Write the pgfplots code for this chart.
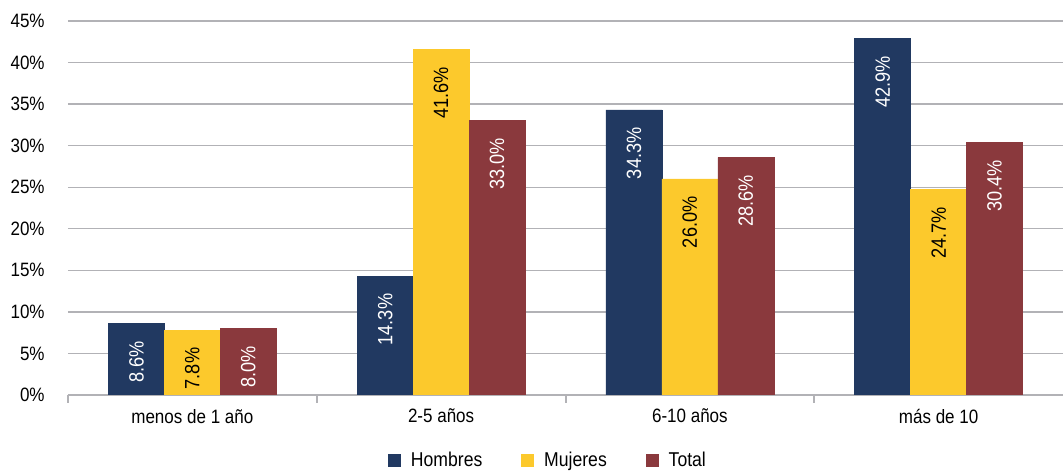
\documentclass[border=0pt]{standalone}
\usepackage{pgfplots}
\pgfplotsset{compat=1.18}
\usepackage{fontspec}
\setmainfont{Liberation Sans}[FakeStretch=0.88]

\definecolor{hombres}{RGB}{33,57,97}
\definecolor{mujeres}{RGB}{252,201,44}
\definecolor{total}{RGB}{138,57,61}
\definecolor{gridgray}{RGB}{178,178,182}

\begin{document}
\begin{tikzpicture}
\begin{axis}[
    scale only axis,
    width=746.25pt, height=280.5pt,
    ybar=0pt,
    bar width=0.225,
    xmin=-0.5, xmax=3.5,
    ymin=0, ymax=45,
    ytick={0,5,...,45},
    yticklabel={\pgfmathprintnumber{\tick}\%},
    /pgf/number format/assume math mode=true,
    font=\fontsize{14.5pt}{16pt}\selectfont,
    xtick={0,1,2,3},
    xticklabels={menos de 1 año, 2-5 años, 6-10 años, más de 10},
    minor xtick={-0.5,0.5,1.5,2.5},
    major tick length=0pt,
    minor tick length=6pt,
    tick style={gridgray, line width=1.2pt},
    minor tick style={gridgray, line width=1.5pt},
    axis x line*=bottom,
    axis y line*=left,
    y axis line style={draw=none},
    x axis line style={gridgray, line width=1pt, -},
    ymajorgrids,
    grid style={gridgray, line width=1pt},
    xtick align=outside,
    xticklabel style={yshift=-7pt},
    ytick style={draw=none},
    yticklabel style={xshift=-14pt},
    enlarge x limits=false,
    nodes near coords={\pgfmathprintnumber[fixed,fixed zerofill,precision=1]{\pgfplotspointmeta}\%},
    every node near coord/.append style={rotate=90, anchor=east, inner xsep=13pt, inner ysep=0pt,
        font=\fontsize{15.5pt}{18pt}\selectfont},
    legend style={at={(0.5,-0.175)}, anchor=center, xshift=-13pt, draw=none, legend columns=-1,
        /tikz/every odd column/.append style={column sep=6pt},
        /tikz/every even column/.append style={column sep=27pt},
        font=\fontsize{15pt}{17pt}\selectfont, inner sep=0pt},
    legend image code/.code={\fill[#1] (0pt,-4.5pt) rectangle (9pt,4.5pt);},
]
\addplot[fill=hombres, draw=hombres, every node near coord/.append style={white}]
    coordinates {(0,8.6) (1,14.3) (2,34.3) (3,42.9)};
\addplot[fill=mujeres, draw=mujeres, every node near coord/.append style={black}]
    coordinates {(0,7.8) (1,41.6) (2,26.0) (3,24.7)};
\addplot[fill=total, draw=total, every node near coord/.append style={white}]
    coordinates {(0,8.0) (1,33.0) (2,28.6) (3,30.4)};
\legend{Hombres, Mujeres, Total}
\end{axis}
\pgfresetboundingbox
\path (current axis.south west) ++(-51pt,-58.5pt) coordinate (bl);
\path (current axis.north east) ++(0pt,15.75pt) coordinate (tr);
\path[use as bounding box] (bl) rectangle (tr);
\end{tikzpicture}
\end{document}
